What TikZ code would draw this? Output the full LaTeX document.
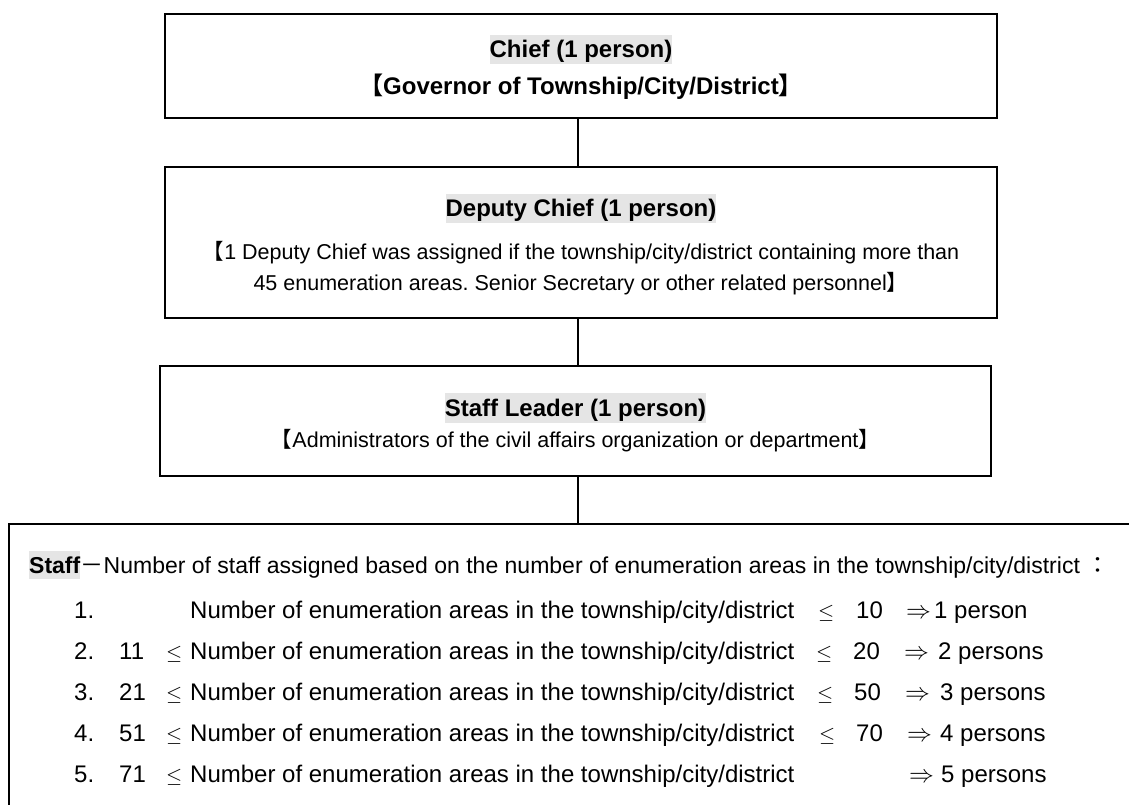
\documentclass[tikz,border=0pt]{standalone}
\usepackage{fontspec}
\setmainfont{Liberation Sans}
\newfontfamily\cjk{Noto Sans CJK SC}
\newfontfamily\cjktc{Noto Sans CJK TC}
\definecolor{titlegray}{RGB}{229,229,229}
\newcommand{\lbr}{{\cjk 【}}
\newcommand{\rbr}{{\cjk 】}}
\frenchspacing
\begin{document}
\begin{tikzpicture}[x=1pt,y=-1pt,
  orgbox/.style={draw, line width=1.6pt, rectangle, inner sep=0pt},
  link/.style={draw, line width=1.2pt},
  titletext/.style={font=\fontsize{24}{28}\selectfont\bfseries, fill=titlegray, inner sep=0pt, text height=22.6pt, text depth=6.5pt, anchor=base},
  boldtext/.style={font=\fontsize{24}{28}\selectfont\bfseries, inner sep=0pt, anchor=base},
  desctext/.style={font=\fontsize{21.5}{26}\selectfont, inner sep=0pt, anchor=base},
  headlabel/.style={font=\fontsize{23}{27}\selectfont\bfseries, fill=titlegray, inner sep=0pt, text height=21.7pt, text depth=6.2pt, anchor=base west},
  headtext/.style={font=\fontsize{23}{27}\selectfont, inner sep=0pt, anchor=base west},
  rowtext/.style={font=\fontsize{24}{28}\selectfont, inner sep=0pt, anchor=base west},
  lesym/.style={font=\fontsize{20}{24}\selectfont, inner sep=0pt, anchor=base west},
  arrsym/.style={font=\fontsize{24}{28}\selectfont, inner sep=0pt, anchor=base west}
]
\useasboundingbox (0,0) rectangle (1129,805);
\clip (0,0) rectangle (1129,805);

% boxes
\node[orgbox, minimum width=832pt, minimum height=104pt] (box1) at (581,66) {};
\node[orgbox, minimum width=832pt, minimum height=151pt] (box2) at (581,242.5) {};
\node[orgbox, minimum width=831pt, minimum height=110pt] (box3) at (575.5,421) {};
\node[orgbox, minimum width=1140pt, minimum height=300pt, anchor=north west] (staffbox) at (8,523) {};

% connectors
\coordinate (spine) at (578,0);
\draw[link] (box1.south -| spine) -- (box2.north -| spine);
\draw[link] (box2.south -| spine) -- (box3.north -| spine);
\draw[link] (box3.south -| spine) -- (staffbox.north -| spine);

% box 1
\node[titletext] (chief) at (581,58) {Chief (1 person)};
\node[boldtext] (chiefdesc) at (581,95) {\lbr Governor of Township/City/District\rbr};

% box 2
\node[titletext] (deputy) at (581,216.5) {Deputy Chief (1 person)};
\node[desctext] (deputya) at (581,259.5) {\lbr 1 Deputy Chief was assigned if the township/city/district containing more than};
\node[desctext] (deputyb) at (581,290.5) {45 enumeration areas. Senior Secretary or other related personnel\rbr};

% box 3
\node[titletext] (leader) at (575.5,416) {Staff Leader (1 person)};
\node[desctext] (leaderdesc) at (575.5,447.5) {\lbr Administrators of the civil affairs organization or department\rbr};

% staff header
\node[headlabel] (stafflabel) at (29,573) {Staff};
\node[headtext] (staffhead) at (stafflabel.base east) {{\cjk －}Number of staff assigned based on the number of enumeration areas in the township/city/district {\cjktc ：}};

% row 1
\node[rowtext] (ra1) at (74,618) {1.};
\node[rowtext] (rb1) at (190,618) {Number of enumeration areas in the township/city/district};
\node[lesym] (rc1) at (818,618) {$\leq$};
\node[rowtext] (rd1) at (856,618) {10};
\node[arrsym] (re1) at (906,618) {$\Rightarrow$};
\node[rowtext] (rf1) at (934,618) {1 person};

% row 2
\node[rowtext] (ra2) at (74,659) {2.};
\node[rowtext] (rl2) at (119,659) {11};
\node[lesym] (rm2) at (166,659) {$\leq$};
\node[rowtext] (rb2) at (190,659) {Number of enumeration areas in the township/city/district};
\node[lesym] (rc2) at (816,659) {$\leq$};
\node[rowtext] (rd2) at (853,659) {20};
\node[arrsym] (re2) at (904,659) {$\Rightarrow$};
\node[rowtext] (rf2) at (938,659) {2 persons};

% row 3
\node[rowtext] (ra3) at (74,700) {3.};
\node[rowtext] (rl3) at (119,700) {21};
\node[lesym] (rm3) at (166,700) {$\leq$};
\node[rowtext] (rb3) at (190,700) {Number of enumeration areas in the township/city/district};
\node[lesym] (rc3) at (817,700) {$\leq$};
\node[rowtext] (rd3) at (854,700) {50};
\node[arrsym] (re3) at (905,700) {$\Rightarrow$};
\node[rowtext] (rf3) at (940,700) {3 persons};

% row 4
\node[rowtext] (ra4) at (74,741) {4.};
\node[rowtext] (rl4) at (119,741) {51};
\node[lesym] (rm4) at (166,741) {$\leq$};
\node[rowtext] (rb4) at (190,741) {Number of enumeration areas in the township/city/district};
\node[lesym] (rc4) at (819,741) {$\leq$};
\node[rowtext] (rd4) at (856,741) {70};
\node[arrsym] (re4) at (907,741) {$\Rightarrow$};
\node[rowtext] (rf4) at (940,741) {4 persons};

% row 5
\node[rowtext] (ra5) at (74,782) {5.};
\node[rowtext] (rl5) at (119,782) {71};
\node[lesym] (rm5) at (166,782) {$\leq$};
\node[rowtext] (rb5) at (190,782) {Number of enumeration areas in the township/city/district};
\node[arrsym] (re5) at (909,782) {$\Rightarrow$};
\node[rowtext] (rf5) at (941,782) {5 persons};
\end{tikzpicture}
\end{document}
